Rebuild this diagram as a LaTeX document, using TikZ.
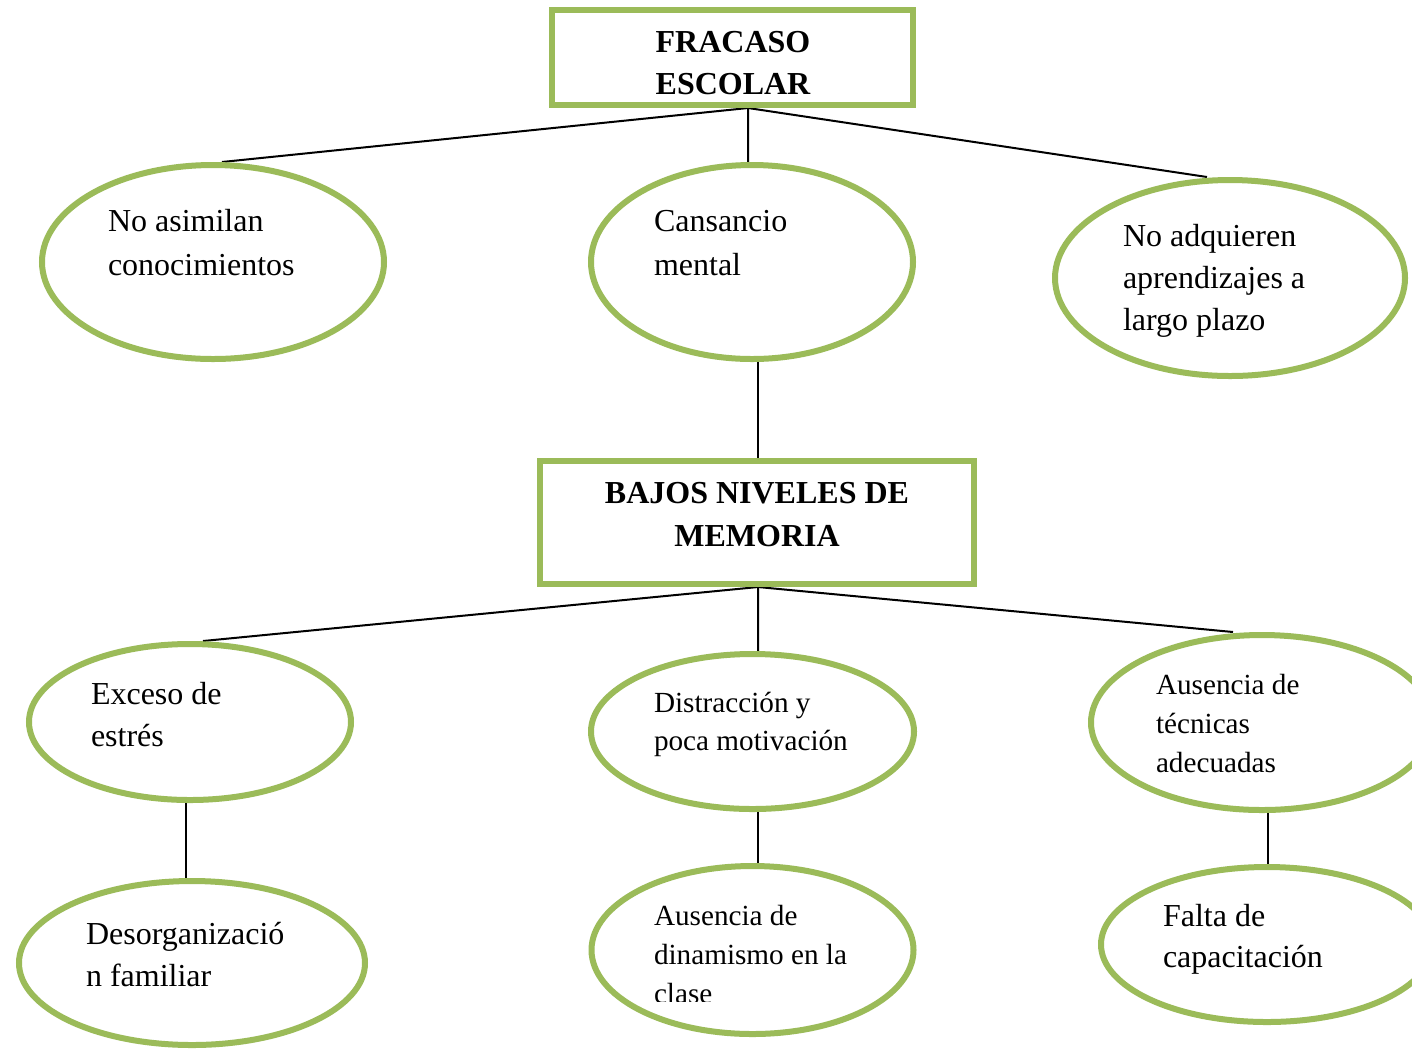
\documentclass[tikz,border=0pt]{standalone}
\usepackage{fontspec}
\setmainfont{Liberation Serif}
\usetikzlibrary{shapes.geometric,backgrounds}
\definecolor{accgreen}{HTML}{9BBB59}
\newcommand{\lbltext}[4][\raggedright]{\parbox[t]{230pt}{\fontsize{#2}{#3}\selectfont#1 #4}}
\tikzset{
  oval/.style={ellipse, draw=accgreen, line width=3pt, inner sep=0pt},
  titlebox/.style={rectangle, draw=accgreen, line width=3pt, inner sep=0pt},
  conn/.style={draw=black, line width=1pt},
  lbl/.style={inner sep=0pt, outer sep=0pt, anchor=base west},
  ttl/.style={inner sep=0pt, outer sep=0pt, anchor=base, font=\bfseries},
}
\begin{document}
\begin{tikzpicture}[x=0.5pt,y=-0.5pt]
\useasboundingbox (0,0) rectangle (1412,1051);
% boxes
\node[titlebox, minimum width=180.5pt, minimum height=47.5pt] (box1) at (732.5,57.5) {};
\node[titlebox, minimum width=217pt, minimum height=61.5pt] (box2) at (757,522.5) {};
% ellipses
\node[oval, minimum width=171pt, minimum height=97pt] (e1) at (213,262) {};
\node[oval, minimum width=161pt, minimum height=97pt] (e2) at (752,262) {};
\node[oval, minimum width=175pt, minimum height=98pt] (e3) at (1230,278) {};
\node[oval, minimum width=161pt, minimum height=78pt] (e4) at (190,722) {};
\node[oval, minimum width=161.5pt, minimum height=77.5pt] (e5) at (752.5,731.5) {};
\node[oval, minimum width=171pt, minimum height=87.5pt] (e6) at (1262,722.5) {};
\node[oval, minimum width=173pt, minimum height=82pt] (e7) at (192,963) {};
\node[oval, minimum width=161pt, minimum height=84pt] (e8) at (752.5,950) {};
\node[oval, minimum width=166pt, minimum height=77.5pt] (e9) at (1267,944.5) {};
% connectors
\begin{pgfonlayer}{background}
\fill[white] (0,0) rectangle (1412,1051);
\draw[conn] ([xshift=-2pt]e2.north) -- ([xshift=7.75pt]box1.south) -- ([xshift=4.5pt]e1.north);
\draw[conn] ([xshift=7.75pt]box1.south) -- ([xshift=-11.5pt]e3.north);
\draw[conn] ([xshift=3pt]e2.south) -- ([xshift=0.5pt]box2.north);
\draw[conn] ([xshift=2.75pt]e5.north) -- ([xshift=0.5pt]box2.south) -- ([xshift=6.5pt]e4.north);
\draw[conn] ([xshift=0.5pt]box2.south) -- ([xshift=-14.5pt]e6.north);
\draw[conn] ([xshift=-2pt]e4.south) -- ([xshift=-3pt]e7.north);
\draw[conn] ([xshift=2.75pt]e5.south) -- ([xshift=2.75pt]e8.north);
\draw[conn] ([xshift=3pt]e6.south) -- ([xshift=0.5pt]e9.north);
\end{pgfonlayer}
% texts
\node[ttl] (t1) at (733,52) {\lbltext[\centering]{16}{21}{\bfseries FRACASO\\ESCOLAR}};
\node[ttl] (t5) at (757,503) {\lbltext[\centering]{16}{21.5}{\bfseries BAJOS NIVELES DE\\MEMORIA}};
\node[lbl] (t2) at (108,231) {\lbltext{16}{22}{No asimilan\\conocimientos}};
\node[lbl] (t3) at (654,231) {\lbltext{16}{22}{Cansancio\\mental}};
\node[lbl] (t4) at (1123,246) {\lbltext{16}{21}{No adquieren\\aprendizajes a\\largo plazo}};
\node[lbl] (t6) at (91,704) {\lbltext{16}{21}{Exceso de\\estrés}};
\node[lbl] (t7) at (654,712) {\lbltext{14.6}{19}{Distracción y\\poca motivación}};
\node[lbl] (t8) at (1156,694) {\lbltext{14.6}{19.5}{Ausencia de\\técnicas\\adecuadas}};
\node[lbl] (t9) at (86,944) {\lbltext{16}{21}{Desorganizació\\n familiar}};
\begin{scope}
\clip (600,880) rectangle (900,1001);
\node[lbl] (t10) at (654,925) {\lbltext{14.6}{19.5}{Ausencia de\\dinamismo en la\\clase}};
\end{scope}
\node[lbl] (t11) at (1163,926) {\lbltext{16}{20.5}{Falta de\\capacitación}};
\end{tikzpicture}
\end{document}
